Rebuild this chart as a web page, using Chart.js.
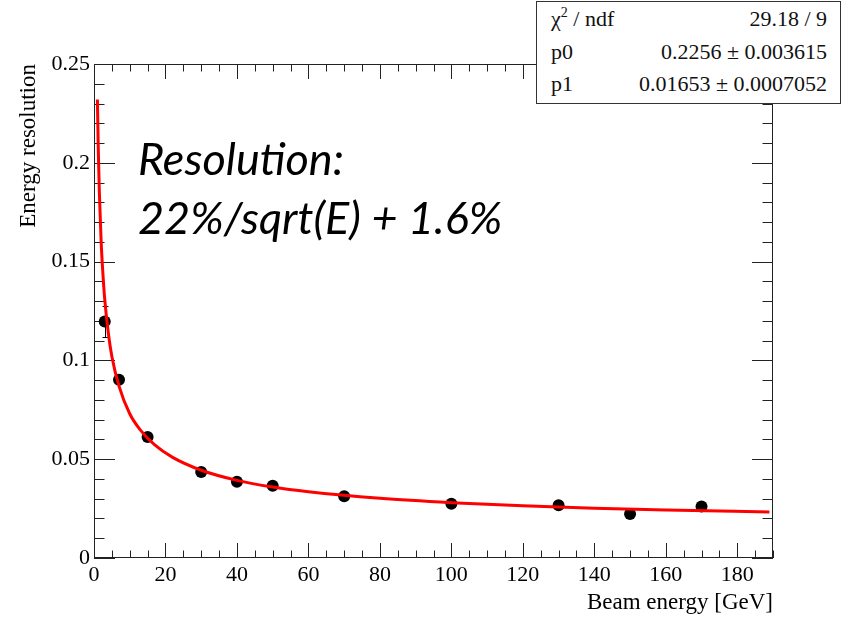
<!DOCTYPE html>
<html>
<head>
<meta charset="utf-8">
<title>Energy resolution</title>
<script src="https://cdn.jsdelivr.net/npm/chart.js@4.4.1/dist/chart.umd.min.js"></script>
<style>
  body { margin: 0; background: #fff; }
  #wrap { position: relative; width: 842px; height: 617px; }
  #stats {
    position: absolute; left: 536px; top: 1px; width: 303px; height: 101px;
    border: 1px solid #333; background: #fff; z-index: 2;
    font-family: "Liberation Serif", "Times New Roman", serif; font-size: 22px; color: #111;
  }
  .row { position: absolute; left: 14px; right: 13px; height: 32px; line-height: 32px; }
  .row .k { position: absolute; left: 0; }
  .row .v { position: absolute; right: 0; }
  #note {
    position: absolute; left: 138px; top: 129px; z-index: 2;
    font-family: Lato, "Open Sans", sans-serif; font-style: italic; font-size: 45px;
    line-height: 59px; color: #000; white-space: nowrap;
  }
</style>
</head>
<body>
<div id="wrap">
  <canvas id="resChart" width="842" height="617"></canvas>
  <div id="stats">
    <div class="row" style="top:1px"><span class="k">&chi;<sup style="font-size:14px;vertical-align:9px;line-height:0">2</sup> / ndf</span><span class="v">29.18 / 9</span></div>
    <div class="row" style="top:34px"><span class="k">p0</span><span class="v">0.2256 &plusmn; 0.003615</span></div>
    <div class="row" style="top:66px"><span class="k">p1</span><span class="v">0.01653 &plusmn; 0.0007052</span></div>
  </div>
  <div id="note">Resolution:<br>22%/sqrt(E) + 1.6%</div>
</div>

<script>
const energy = [3, 7, 15, 30, 40, 50, 70, 100, 130, 150, 170];
const resolution = [0.1197, 0.0902, 0.0612, 0.0435, 0.0386, 0.0366, 0.0312, 0.0275, 0.0267, 0.0223, 0.0261];
const resolutionErr = [0.0079, 0.0015, 0.0012, 0.0008, 0.0008, 0.0008, 0.0008, 0.0008, 0.0009, 0.0008, 0.001];

// fitted curve, sampled along the red line
const fitEnergy = [0.95, 1.2, 1.5, 2, 2.5, 3, 4, 5, 7, 10, 13, 17, 22, 30, 40, 50, 60, 80, 100, 120, 140, 160, 189];
const fitResolution = [0.232, 0.2066, 0.185, 0.160, 0.1437, 0.131, 0.114, 0.102, 0.087, 0.073, 0.0647, 0.0572, 0.0509,
  0.0444, 0.0393, 0.0359, 0.0335, 0.0302, 0.028, 0.0264, 0.0252, 0.0243, 0.0233];

const xTicks = [0, 20, 40, 60, 80, 100, 120, 140, 160, 180];
const yTicks = [0, 0.05, 0.1, 0.15, 0.2, 0.25];
const yTickLabels = ["0", "0.05", "0.1", "0.15", "0.2", "0.25"];

const serif = "'Liberation Serif', 'Times New Roman', serif";

// ROOT style frame with inward ticks on all four sides
const rootFrame = {
  id: "rootFrame",
  beforeDatasetsDraw(chart) {
    const ctx = chart.ctx;
    const { left, right, top, bottom } = chart.chartArea;
    const xs = chart.scales.x;
    const ys = chart.scales.y;
    ctx.save();
    ctx.strokeStyle = "#222";
    ctx.lineWidth = 1;
    ctx.beginPath();
    for (let v = 0; v <= 190; v += 5) {
      const px = Math.round(xs.getPixelForValue(v)) + 0.5;
      const len = v % 20 === 0 ? 15 : 7.5;
      ctx.moveTo(px, bottom); ctx.lineTo(px, bottom - len);
      ctx.moveTo(px, top); ctx.lineTo(px, top + len);
    }
    for (let i = 0; i <= 25; i++) {
      const py = Math.round(ys.getPixelForValue(i / 100)) + 0.5;
      const len = i % 5 === 0 ? 21 : 10.5;
      ctx.moveTo(left, py); ctx.lineTo(left + len, py);
      ctx.moveTo(right, py); ctx.lineTo(right - len, py);
    }
    ctx.stroke();
    ctx.strokeRect(Math.round(left) + 0.5, Math.round(top) + 0.5, Math.round(right - left) - 1, Math.round(bottom - top) - 1);

    // error bars of the measured points
    ctx.strokeStyle = "#000";
    ctx.beginPath();
    energy.forEach((e, i) => {
      const px = Math.round(xs.getPixelForValue(e)) + 0.5;
      const y1 = ys.getPixelForValue(resolution[i] + resolutionErr[i]);
      const y2 = ys.getPixelForValue(resolution[i] - resolutionErr[i]);
      ctx.moveTo(px, y1); ctx.lineTo(px, y2);
      ctx.moveTo(px - 3, Math.round(y1) + 0.5); ctx.lineTo(px + 3, Math.round(y1) + 0.5);
      ctx.moveTo(px - 3, Math.round(y2) + 0.5); ctx.lineTo(px + 3, Math.round(y2) + 0.5);
    });
    ctx.stroke();
    ctx.restore();
  }
};

const ctx = document.getElementById("resChart").getContext("2d");
const resChart = new Chart(ctx, {
  type: "scatter",
  data: {
    datasets: [
      {
        type: "line",
        label: "fit",
        data: fitEnergy.map((e, i) => ({ x: e, y: fitResolution[i] })),
        borderColor: "#ff0000",
        borderWidth: 3,
        pointRadius: 0,
        fill: false,
        cubicInterpolationMode: "monotone",
        order: 0,
      },
      {
        label: "data",
        data: energy.map((e, i) => ({ x: e, y: resolution[i] })),
        backgroundColor: "#000",
        borderWidth: 0,
        pointRadius: 6,
        order: 1,
      },
    ],
  },
  options: {
    responsive: false,
    animation: false,
    events: [],
    layout: { padding: { left: 0, right: 69, top: 64, bottom: 0 } },
    plugins: { legend: { display: false }, tooltip: { enabled: false } },
    scales: {
      x: {
        type: "linear",
        min: 0,
        max: 190,
        afterFit(scale) { scale.height = 59; },
        afterBuildTicks(scale) { scale.ticks = xTicks.map((v) => ({ value: v })); },
        grid: { display: false, drawTicks: false },
        border: { display: false },
        ticks: {
          padding: 4,
          color: "#000",
          maxRotation: 0,
          autoSkip: false,
          font: { family: serif, size: 22 },
        },
        title: {
          display: true,
          text: "Beam energy [GeV]",
          align: "end",
          color: "#000",
          font: { family: serif, size: 23 },
          padding: { top: 0, bottom: 0 },
        },
      },
      y: {
        type: "linear",
        min: 0,
        max: 0.25,
        afterFit(scale) { scale.width = 94; },
        afterBuildTicks(scale) { scale.ticks = yTicks.map((v) => ({ value: v })); },
        grid: { display: false, drawTicks: false },
        border: { display: false },
        ticks: {
          padding: 4,
          color: "#000",
          autoSkip: false,
          font: { family: serif, size: 22 },
          callback: (value, index) => yTickLabels[index],
        },
        title: {
          display: true,
          text: "Energy resolution",
          align: "end",
          color: "#000",
          font: { family: serif, size: 23 },
          padding: { top: 15, bottom: 0 },
        },
      },
    },
  },
  plugins: [rootFrame],
});
</script>
</body>
</html>
